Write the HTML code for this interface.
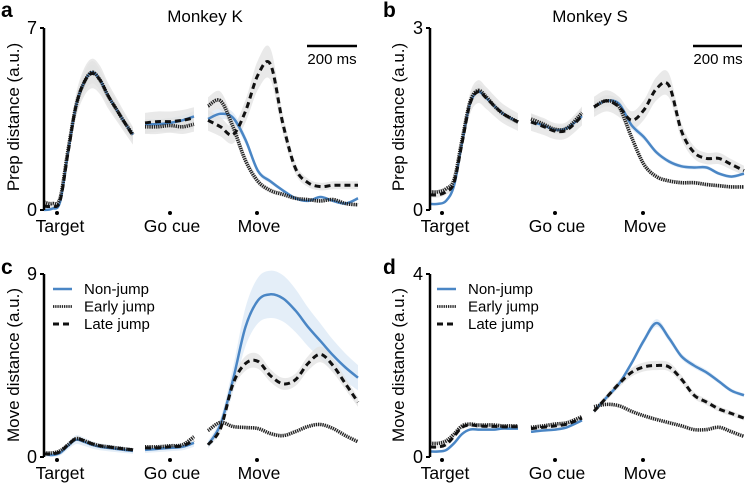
<!DOCTYPE html>
<html><head><meta charset="utf-8">
<style>
body{margin:0;background:#fff;}
svg{display:block;font-family:"Liberation Sans",Arial,sans-serif;}
</style></head>
<body>
<svg id="fig" width="745" height="483" viewBox="0 0 745 483">
<g>
<text x="1" y="17" font-size="21" font-weight="bold">a</text>
<text x="205" y="22" font-size="17" text-anchor="middle">Monkey K</text>
<line x1="307" y1="46" x2="357" y2="46" stroke="#000" stroke-width="2.5"/>
<text x="332" y="64" font-size="15" text-anchor="middle">200 ms</text>
<text transform="translate(19,117) rotate(-90)" font-size="17" text-anchor="middle">Prep distance (a.u.)</text>
</g>
<g>
<text x="383" y="17" font-size="21" font-weight="bold">b</text>
<text x="590" y="22" font-size="17" text-anchor="middle">Monkey S</text>
<line x1="693" y1="46" x2="742" y2="46" stroke="#000" stroke-width="2.5"/>
<text x="718" y="64" font-size="15" text-anchor="middle">200 ms</text>
<text transform="translate(404,117) rotate(-90)" font-size="17" text-anchor="middle">Prep distance (a.u.)</text>
</g>
<g>
<text x="1" y="274" font-size="21" font-weight="bold">c</text>
<text transform="translate(19,365) rotate(-90)" font-size="17" text-anchor="middle">Move distance (a.u.)</text>
</g>
<g>
<text x="383" y="274" font-size="21" font-weight="bold">d</text>
<text transform="translate(404,365) rotate(-90)" font-size="17" text-anchor="middle">Move distance (a.u.)</text>
</g>
</svg>
<script>
// sample times (ms relative to each event)
const tSeg1A = [-52,-20,12,44,76,108,140,172,204,236,268,304];
const tSeg2A = [-100,-50,0,50,96];
const tSeg3 = [-196,-146,-96,-46,4,54,104,154,204,254,304,354,404];
const tSeg1B = [-48,-16,16,48,80,112,144,176,208,240,272,304];
const tSeg2B = [-96,-48,0,48,108];
const eventLabels = ["Target","Go cue","Move"];
const seriesNames = ["Non-jump","Early jump","Late jump"];

// Panel a
const aNon1 = [0,0.05,0.3,2.2,4.0,4.9,5.3,5.0,4.4,3.9,3.4,2.9];
const aEarly1 = [0.3,0.25,0.45,2.3,4.0,4.9,5.3,5.0,4.4,3.9,3.4,2.9];
const aLate1 = [0.15,0.15,0.35,2.2,4.0,4.9,5.25,5.0,4.4,3.9,3.4,2.85];
const aNon2 = [3.3,3.3,3.35,3.45,3.6];
const aEarly2 = [3.2,3.2,3.25,3.2,3.3];
const aLate2 = [3.35,3.4,3.4,3.45,3.55];
const aNon3 = [3.5,3.7,3.55,2.7,1.5,1.1,0.75,0.45,0.35,0.5,0.35,0.25,0.45];
const aEarly3 = [4.0,4.2,3.2,1.9,1.1,0.75,0.6,0.45,0.4,0.35,0.4,0.25,0.2];
const aLate3 = [3.45,3.2,2.9,3.8,5.2,5.6,3.3,1.6,1.05,0.9,0.95,0.95,0.95];
// Panel b
const bNon1 = [0.1,0.1,0.15,0.4,1.1,1.75,1.95,1.85,1.72,1.6,1.52,1.45];
const bEarly1 = [0.3,0.3,0.35,0.5,1.15,1.78,1.97,1.87,1.72,1.6,1.52,1.45];
const bLate1 = [0.25,0.25,0.3,0.45,1.1,1.75,1.95,1.85,1.72,1.6,1.52,1.45];
const bNon2 = [1.45,1.4,1.32,1.35,1.55];
const bEarly2 = [1.5,1.42,1.33,1.35,1.6];
const bLate2 = [1.45,1.38,1.3,1.32,1.55];
const bNon3 = [1.7,1.8,1.75,1.4,1.2,0.95,0.8,0.72,0.7,0.7,0.6,0.55,0.6];
const bEarly3 = [1.7,1.8,1.7,1.2,0.75,0.55,0.48,0.45,0.45,0.42,0.4,0.38,0.38];
const bLate3 = [1.7,1.8,1.7,1.48,1.65,2.0,2.05,1.3,0.95,0.85,0.85,0.75,0.65];
// Panel c
const cNon1 = [0.15,0.1,0.2,0.55,0.85,0.75,0.6,0.5,0.45,0.4,0.35,0.3];
const cEarly1 = [0.2,0.2,0.3,0.6,0.9,0.8,0.65,0.55,0.5,0.45,0.4,0.35];
const cLate1 = [0.15,0.15,0.25,0.6,0.9,0.8,0.65,0.55,0.5,0.45,0.4,0.35];
const cNon2 = [0.35,0.4,0.45,0.5,0.7];
const cEarly2 = [0.5,0.5,0.55,0.6,1.0];
const cLate2 = [0.45,0.45,0.5,0.55,0.8];
const cNon3 = [0.6,1.6,3.8,6.4,7.7,8.0,7.8,7.2,6.4,5.7,5.0,4.4,3.9];
const cEarly3 = [1.3,1.7,1.5,1.45,1.4,1.15,1.05,1.25,1.5,1.6,1.4,1.05,0.75];
const cLate3 = [0.6,1.4,3.6,4.6,4.7,4.0,3.6,3.8,4.6,5.05,4.5,3.6,2.7];
// Panel d
const dNon1 = [0.12,0.12,0.15,0.3,0.5,0.6,0.6,0.6,0.6,0.62,0.62,0.62];
const dEarly1 = [0.3,0.3,0.35,0.5,0.68,0.72,0.7,0.7,0.7,0.68,0.68,0.68];
const dLate1 = [0.22,0.22,0.27,0.45,0.65,0.7,0.68,0.67,0.67,0.66,0.66,0.66];
const dNon2 = [0.55,0.58,0.6,0.65,0.8];
const dEarly2 = [0.65,0.68,0.72,0.75,0.88];
const dLate2 = [0.62,0.65,0.68,0.72,0.85];
const dNon3 = [1.0,1.3,1.6,2.05,2.55,2.93,2.6,2.2,2.0,1.85,1.65,1.45,1.35];
const dEarly3 = [1.1,1.15,1.12,1.0,0.9,0.82,0.75,0.68,0.6,0.6,0.65,0.55,0.45];
const dLate3 = [1.0,1.3,1.6,1.85,1.97,2.0,1.97,1.7,1.35,1.2,1.05,0.95,0.85];

const NS="http://www.w3.org/2000/svg";
const svg=document.getElementById('fig');
function mk(tag,attrs,parent){const e=document.createElementNS(NS,tag);for(const k in attrs)e.setAttribute(k,attrs[k]);(parent||svg).appendChild(e);return e;}
function smooth(pts){
  let d="M"+pts[0][0].toFixed(1)+","+pts[0][1].toFixed(1);
  for(let i=0;i<pts.length-1;i++){
    const p0=pts[i-1]||pts[i],p1=pts[i],p2=pts[i+1],p3=pts[i+2]||p2;
    const c1=[p1[0]+(p2[0]-p0[0])/6,p1[1]+(p2[1]-p0[1])/6];
    const c2=[p2[0]-(p3[0]-p1[0])/6,p2[1]-(p3[1]-p1[1])/6];
    d+=" C"+c1[0].toFixed(1)+","+c1[1].toFixed(1)+" "+c2[0].toFixed(1)+","+c2[1].toFixed(1)+" "+p2[0].toFixed(1)+","+p2[1].toFixed(1);
  }
  return d;
}
function panel(cfg){
  const g=mk('g',{});
  
  
  const y=v=>cfg.y0-(v/cfg.ymax)*(cfg.y0-cfg.y1);
  const x=(seg,t)=>cfg.events[seg]+t*0.25;
  cfg.segs.forEach((s,si)=>{
    s.series.forEach((vals,k)=>{
      const hw=cfg.band[k]; if(!hw) return;
      const f=v=>hw*(0.15+1.7*v/cfg.ymax);
      const up=s.t.map((t,i)=>[x(si,t),y(vals[i]+f(vals[i]))]);
      const lo=s.t.map((t,i)=>[x(si,t),y(Math.max(0,vals[i]-f(vals[i])))]).reverse();
      const d=smooth(up)+" L"+lo[0][0]+","+lo[0][1]+smooth(lo).slice(1).replace(/^[^C]*/,'')+" Z";
      const b=mk('path',{d:d,fill:k===0?'#dbe8f5':'#e2e2e2','fill-opacity':0.75,stroke:'none'},g);
      
      
    });
  });
  const styles=[
    {stroke:'#4a86c5','stroke-width':2.5,fill:'none'},
    {stroke:'#222','stroke-width':3.6,fill:'none','stroke-dasharray':'1.3 0.9'},
    {stroke:'#111','stroke-width':3,fill:'none','stroke-dasharray':'6 4'}];
  cfg.segs.forEach((s,si)=>{
    [0,1,2].forEach(k=>{
      const pts=s.t.map((t,i)=>[x(si,t),y(s.series[k][i])]);
      const p=mk('path',Object.assign({d:smooth(pts)},styles[k]),g);
      
      
    });
  });
  const ax=mk('line',{x1:cfg.ax,y1:cfg.y1,x2:cfg.ax,y2:cfg.y0,stroke:'#000','stroke-width':2.5},g);
  
  
  [[0,'0'],[cfg.ymax,String(cfg.ymax)]].forEach(([v,l])=>{
    const tk=mk('line',{x1:cfg.ax-4,y1:y(v),x2:cfg.ax,y2:y(v),stroke:'#000','stroke-width':2},g);
    
    
    const tl=mk('text',{x:cfg.ax-7,y:y(v)+6,'font-size':18,'text-anchor':'end'},g);
    tl.textContent=l;
    
    
  });
  cfg.events.forEach((ex,i)=>{
    const c=mk('circle',{cx:ex,cy:cfg.y0+3,r:2,fill:'#000'},g);
    
    
    const t=mk('text',{x:ex+(i===0?3:2),y:cfg.y0+22,'font-size':17.5,'text-anchor':'middle'},g);
    t.textContent=eventLabels[i];
    
    
  });
  if(cfg.legend){
    seriesNames.forEach((n,k)=>{
      const ly=cfg.legend[1]+k*17.5;
      const ll=mk('line',Object.assign({x1:cfg.legend[0],y1:ly,x2:cfg.legend[0]+19,y2:ly},styles[k],{'stroke-width':k===1?2.8:(k===2?3:2.5)}),g);
      
      
      const lt=mk('text',{x:cfg.legend[0]+31,y:ly+5,'font-size':15},g);
      lt.textContent=n;
      
      
    });
  }
}
panel({id:'panel-a',ax:44,y0:210,y1:28,ymax:7,events:[57,170,257],band:[0.2,0.3,0.4],
  segs:[{t:tSeg1A,series:[aNon1,aEarly1,aLate1]},{t:tSeg2A,series:[aNon2,aEarly2,aLate2]},{t:tSeg3,series:[aNon3,aEarly3,aLate3]}]});
panel({id:'panel-b',ax:430,y0:210,y1:28,ymax:3,events:[442,555,643],band:[0.06,0.08,0.15],
  segs:[{t:tSeg1B,series:[bNon1,bEarly1,bLate1]},{t:tSeg2B,series:[bNon2,bEarly2,bLate2]},{t:tSeg3,series:[bNon3,bEarly3,bLate3]}]});
panel({id:'panel-c',ax:44,y0:457,y1:274,ymax:9,events:[57,170,257],band:[0.7,0.15,0.35],legend:[53,289],
  segs:[{t:tSeg1A,series:[cNon1,cEarly1,cLate1]},{t:tSeg2A,series:[cNon2,cEarly2,cLate2]},{t:tSeg3,series:[cNon3,cEarly3,cLate3]}]});
panel({id:'panel-d',ax:430,y0:457,y1:274,ymax:4,events:[442,555,643],band:[0.06,0.04,0.1],legend:[437,289],
  segs:[{t:tSeg1B,series:[dNon1,dEarly1,dLate1]},{t:tSeg2B,series:[dNon2,dEarly2,dLate2]},{t:tSeg3,series:[dNon3,dEarly3,dLate3]}]});
</script>
</body></html>
